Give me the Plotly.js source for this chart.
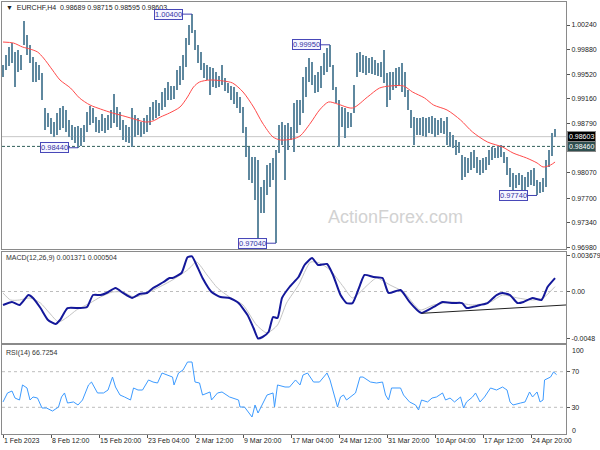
<!DOCTYPE html>
<html><head><meta charset="utf-8">
<script src="https://cdn.plot.ly/plotly-3.0.1.min.js"></script>
<style>html,body{margin:0;padding:0;background:#fff}#c{width:600px;height:450px}</style>
</head><body><div id="c"></div>
<script>
// H4 bars, sampled every second bar (bar number = 2*k)
const highs=[
0.9965,0.9980,0.9992,0.9998,0.9984,0.9987,0.9980,1.0030,1.0009,0.9995,
0.9977,0.9970,0.9965,0.9954,0.9902,0.9895,0.9888,0.9882,0.9895,0.9902,
0.9905,0.9899,0.9885,0.9877,0.9874,0.9876,0.9873,0.9877,0.9896,0.9905,
0.9902,0.9889,0.9885,0.9894,0.9888,0.9892,0.9899,0.9923,0.9904,0.9896,
0.9885,0.9877,0.9874,0.9902,0.9892,0.9888,0.9882,0.9888,0.9892,0.9904,
0.9911,0.9914,0.9910,0.9926,0.9932,0.9940,0.9935,0.9935,0.9958,0.9964,
0.9980,1.0005,1.0024,1.0040,1.0017,0.9995,0.9984,0.9968,0.9965,0.9962,
0.9961,0.9955,0.9949,0.9965,0.9946,0.9939,0.9935,0.9933,0.9926,0.9918,
0.9904,0.9874,0.9845,0.9830,0.9830,0.9826,0.9786,0.9797,0.9819,0.9822,
0.9829,0.9841,0.9877,0.9882,0.9877,0.9880,0.9874,0.9910,0.9914,0.9914,
0.9948,0.9962,0.9976,0.9970,0.9951,0.9955,0.9964,0.9983,0.9990,0.9995,
0.9965,0.9933,0.9914,0.9904,0.9902,0.9896,0.9895,0.9936,0.9983,0.9984,
0.9980,0.9978,0.9976,0.9977,0.9973,0.9968,0.9970,0.9987,0.9954,0.9955,
0.9955,0.9961,0.9962,0.9968,0.9955,0.9929,0.9899,0.9889,0.9888,0.9888,
0.9889,0.9888,0.9889,0.9891,0.9888,0.9885,0.9888,0.9883,0.9889,0.9867,
0.9863,0.9855,0.9852,0.9833,0.9830,0.9829,0.9838,0.9841,0.9830,0.9826,
0.9829,0.9830,0.9841,0.9845,0.9844,0.9847,0.9848,0.9838,0.9830,0.9814,
0.9807,0.9804,0.9807,0.9804,0.9801,0.9808,0.9811,0.9814,0.9797,0.9794,
0.9800,0.9826,0.9841,0.9866,0.98715];
const lows=[
0.9948,0.9958,0.9964,0.9968,0.9933,0.9955,0.9958,0.9995,0.9980,0.9968,
0.9940,0.9940,0.9943,0.9914,0.9870,0.9874,0.9864,0.9860,0.9863,0.9870,
0.9873,0.9867,0.9860,0.9855,0.9851,0.9844,0.9846,0.9852,0.9867,0.9877,
0.9880,0.9867,0.9866,0.9868,0.9866,0.9870,0.9873,0.9880,0.9874,0.9870,
0.9855,0.9852,0.9851,0.9845,0.9860,0.9863,0.9860,0.9864,0.9867,0.9877,
0.9885,0.9888,0.9891,0.9899,0.9904,0.9914,0.9914,0.9916,0.9929,0.9936,
0.9943,0.9962,0.9995,1.0012,0.9987,0.9968,0.9958,0.9946,0.9943,0.9921,
0.9933,0.9932,0.9933,0.9936,0.9927,0.9924,0.9914,0.9908,0.9902,0.9895,
0.9866,0.9830,0.9797,0.9792,0.9767,0.9707,0.9748,0.9748,0.9775,0.9786,
0.9797,0.9704,0.9836,0.9848,0.9797,0.9841,0.9855,0.9838,0.9866,0.9877,
0.9895,0.9918,0.9940,0.9936,0.9924,0.9926,0.9932,0.9951,0.9955,0.9962,
0.9929,0.9910,0.9845,0.9874,0.9858,0.9873,0.9874,0.9895,0.9948,0.9955,
0.9954,0.9951,0.9954,0.9952,0.9951,0.9949,0.9948,0.9939,0.9904,0.9914,
0.9929,0.9932,0.9935,0.9926,0.9918,0.9899,0.9873,0.9848,0.9863,0.9863,
0.9861,0.9860,0.9866,0.9864,0.9860,0.9863,0.9866,0.9864,0.9848,0.9845,
0.9844,0.9833,0.9836,0.9797,0.9801,0.9807,0.9811,0.9814,0.9807,0.9804,
0.9807,0.9811,0.9819,0.9826,0.9829,0.9829,0.9830,0.9822,0.9804,0.9786,
0.9782,0.9785,0.9789,0.9782,0.9778,0.9786,0.9789,0.9788,0.9774,0.9778,
0.9779,0.9786,0.9816,0.9832,0.98595];

// moving average (red)
const maBar=[0,7,13,18,23,27,33,38,45,51,58,65,73,78,85,95,100,105,111,118,123,127,131,138,147,153,160,167,173,180,185,193,198,205,211,217,223,233,243,251,258,267,273,281,287,296,305,313,323,333,340,349,356,360,365,368];
const maVal=[0.99991,0.99976,0.99918,0.99888,0.99845,0.99756,0.99580,0.99434,0.99316,0.99170,0.99067,0.99008,0.98950,0.98921,0.98877,0.98818,0.98833,0.98891,0.98950,0.99038,0.99185,0.99331,0.99404,0.99434,0.99419,0.99390,0.99258,0.99038,0.98803,0.98598,0.98554,0.98569,0.98613,0.98803,0.98994,0.99111,0.99082,0.99023,0.99185,0.99316,0.99346,0.99346,0.99258,0.99170,0.99067,0.98994,0.98847,0.98671,0.98524,0.98451,0.98363,0.98290,0.98217,0.98158,0.98187,0.98231];

// MACD(12,26,9)
const macdBar=[0,6,11,17,20,25,30,35,38,43,51,56,60,65,69,75,80,86,91,96,100,107,111,113,119,123,126,129,133,139,145,151,157,163,167,170,173,177,180,183,186,191,197,201,206,210,216,220,225,229,233,238,241,247,253,257,265,271,276,279,287,293,300,306,309,313,318,323,329,333,338,343,347,353,359,363,368];
const macdVal=[-0.00138,-0.00107,-0.00138,-0.00036,-0.00066,-0.00169,-0.00291,-0.00332,-0.00291,-0.00169,
-0.00169,-0.00158,-0.00036,-0.00036,-0.00015,0.00036,-0.00015,-0.00066,-0.00026,-0.00015,
0.00036,0.00097,0.00138,0.00138,0.00189,0.00350,0.00360,0.00271,0.00138,-0.00005,
-0.00056,-0.00066,-0.00118,-0.00240,-0.00373,-0.00480,-0.00465,-0.00414,-0.00261,-0.00271,
-0.00066,0.00046,0.00148,0.00271,0.00342,0.00271,0.00281,0.00169,-0.00036,-0.00118,
-0.00118,0.00066,0.00169,0.00148,0.00138,-0.00015,0.00015,-0.00107,-0.00189,-0.00220,
-0.00158,-0.00107,-0.00118,-0.00118,-0.00169,-0.00158,-0.00138,-0.00118,-0.00036,-0.00015,
-0.00036,-0.00118,-0.00107,-0.00066,-0.00087,0.00046,0.00137];
const sigBar=[0,5,11,18,25,31,37,43,49,58,65,73,80,87,93,103,113,123,129,136,143,151,160,169,176,183,189,197,205,211,218,227,233,243,249,258,267,278,287,300,313,325,333,343,353,360,368];
const sigVal=[-0.00015,-0.00087,-0.00087,-0.00066,-0.00118,-0.00220,-0.00312,-0.00261,-0.00189,-0.00118,
-0.00056,-0.00005,-0.00005,-0.00056,-0.00036,0.00036,0.00118,0.00220,0.00301,0.00169,
0.00036,-0.00056,-0.00138,-0.00342,-0.00424,-0.00342,-0.00118,0.00066,0.00301,0.00291,
0.00220,0.00046,-0.00066,0.00066,0.00138,0.00066,-0.00005,-0.00189,-0.00138,-0.00107,
-0.00138,-0.00107,-0.00036,-0.00066,-0.00087,-0.00066,0.00050];
const trendBar=[279,376];
const trendVal=[-0.00223,-0.00137];

// RSI(14)
const rsiBar=[0,3,6,8,11,13,16,18,20,23,26,29,33,37,39,41,43,47,50,53,57,59,63,67,70,73,75,78,81,85,87,90,93,97,100,103,106,109,113,114,117,120,123,126,128,131,133,138,139,143,146,151,157,158,161,166,168,170,176,180,181,183,188,191,195,198,200,203,207,211,216,218,220,223,225,227,229,233,235,238,240,245,249,253,255,257,259,265,267,271,275,277,279,283,286,289,293,295,298,301,305,307,309,313,315,318,321,325,329,333,336,338,340,345,348,351,353,356,358,360,361,365,367,369];
const rsiVal=[36.0,46.1,48.3,40.4,38.2,55.1,51.7,38.2,41.6,40.4,
29.2,29.2,25.8,30.3,41.6,46.1,34.8,36.0,32.6,38.2,
55.1,58.4,46.1,46.1,49.4,64.0,52.8,43.8,41.6,38.2,
51.7,49.4,49.4,60.7,58.4,57.3,68.5,66.3,64.0,55.1,
68.5,71.9,80.9,80.9,58.4,57.3,43.8,47.2,38.2,46.1,
47.2,41.6,38.2,30.3,30.3,19.1,32.6,23.6,43.8,46.1,
30.3,55.1,52.8,52.8,60.7,55.1,66.3,68.5,58.4,58.4,
68.5,60.7,47.2,30.3,41.6,43.8,38.2,43.8,46.1,64.0,
64.0,58.4,57.3,58.4,43.8,38.2,51.7,51.7,43.8,36.0,
32.6,27.0,38.2,36.0,40.4,41.6,46.1,38.2,40.4,36.0,
41.6,29.2,36.0,41.6,46.1,36.0,41.6,51.7,49.4,52.8,
49.4,36.0,32.6,34.8,36.0,47.2,41.6,47.2,36.0,38.2,
60.7,64.0,69.7,66.7];
const rsiLevels=[70,30];
const macdLevels=[0];

// swing labels
const swingBar=[126,218,50,182,356];
const swingPrice=[1.00400,0.99950,0.98440,0.97040,0.97740];

// axis ticks
const priceTicks=[1.00240,0.99880,0.99520,0.99160,0.98790,0.98070,0.97700,0.97340,0.96980];
const macdTicks=[0.003679,0,-0.0048];
const macdTickText=['0.003679','0.00','-0.0048'];
const rsiTicks=[70,30];
const rsiEdgeTicks=[100,0];
const xTickBars=[0,32,64,96,128,160,192,224,256,288,320,352];
const xTickText=['1 Feb 2023','8 Feb 12:00','15 Feb 20:00','23 Feb 04:00','2 Mar 12:00','9 Mar 20:00','17 Mar 04:00','24 Mar 12:00','31 Mar 20:00','10 Apr 04:00','17 Apr 12:00','24 Apr 20:00'];

const lastOHLC=[0.98689,0.98715,0.98595,0.98603];
const levelPrice=0.98460;
const macdNow=[0.001371,0.000504];
const rsiNow=66.7254;

const F='"Liberation Sans", Arial, sans-serif';
const barX=highs.map((_,k)=>k*2);

const traces=[
 {type:'bar',x:barX,y:highs.map((h,k)=>h-lows[k]),base:lows,width:1.45,
  marker:{color:'#5f889f',line:{width:0}},xaxis:'x3',yaxis:'y',hoverinfo:'skip'},
 {type:'scatter',mode:'lines',x:maBar,y:maVal,line:{color:'#ff4a4a',width:1,shape:'spline',smoothing:0.8},xaxis:'x3',yaxis:'y'},
 {type:'scatter',mode:'lines',x:sigBar,y:sigVal,line:{color:'#c4c4c4',width:1,shape:'spline',smoothing:0.6},xaxis:'x2',yaxis:'y2'},
 {type:'scatter',mode:'lines',x:macdBar,y:macdVal,line:{color:'#14189a',width:2,shape:'spline',smoothing:0.5},xaxis:'x2',yaxis:'y2'},
 {type:'scatter',mode:'lines',x:trendBar,y:trendVal,line:{color:'#222',width:1},xaxis:'x2',yaxis:'y2'},
 {type:'scatter',mode:'lines',x:rsiBar,y:rsiVal,line:{color:'#3d9bff',width:1},xaxis:'x',yaxis:'y3'}
];

const axLine={showline:true,mirror:true,linecolor:'#8a8a8a',linewidth:1,showgrid:false,zeroline:false};
const tf={family:F,size:7,color:'#222'};
const xdom=[2/600,566/600];

const shapes=[
 {type:'line',xref:'x3 domain',x0:0,x1:1,yref:'y',y0:lastOHLC[3],y1:lastOHLC[3],line:{color:'#c8c8c8',width:1},layer:'below'},
 {type:'line',xref:'x3 domain',x0:0,x1:1,yref:'y',y0:levelPrice,y1:levelPrice,line:{color:'#2f5f5a',width:1,dash:'3px,2px'},layer:'below'}
];
macdLevels.forEach(v=>shapes.push({type:'line',xref:'x2 domain',x0:0,x1:1,yref:'y2',y0:v,y1:v,line:{color:'#bdbdbd',width:1,dash:'dot'},layer:'below'}));
rsiLevels.forEach(v=>shapes.push({type:'line',xref:'x domain',x0:0,x1:1,yref:'y3',y0:v,y1:v,line:{color:'#bdbdbd',width:1,dash:'dot'},layer:'below'}));

const nb='\u00a0';
const ann=[
 {xref:'paper',yref:'paper',x:4/600,y:1-7.5/450,xanchor:'left',yanchor:'middle',showarrow:false,
  text:'▼'+nb+nb+'EURCHF,H4'+nb+nb+lastOHLC.map(v=>v.toFixed(5)).join(nb),font:{family:F,size:7,color:'#222'}},
 {xref:'paper',yref:'paper',x:4/600,y:1-258/450,xanchor:'left',yanchor:'middle',showarrow:false,
  text:'MACD(12,26,9)'+nb+macdNow.map(v=>v.toFixed(6)).join(nb),font:{family:F,size:7,color:'#333'}},
 {xref:'paper',yref:'paper',x:4/600,y:1-353/450,xanchor:'left',yanchor:'middle',showarrow:false,
  text:'RSI(14)'+nb+rsiNow.toFixed(4),font:{family:F,size:7,color:'#333'}},
 {xref:'paper',yref:'paper',x:395/600,y:1-217/450,xanchor:'center',yanchor:'middle',showarrow:false,
  text:'ActionForex.com',font:{family:F,size:18,color:'#d2d2d2'}},
 {xref:'paper',yref:'y',x:567/600,y:lastOHLC[3],xanchor:'left',yanchor:'middle',showarrow:false,
  text:lastOHLC[3].toFixed(5),bgcolor:'#000',bordercolor:'#888',borderwidth:1,borderpad:1,font:{family:F,size:7,color:'#fff'}},
 {xref:'paper',yref:'y',x:567/600,y:levelPrice,xanchor:'left',yanchor:'middle',showarrow:false,
  text:levelPrice.toFixed(5),bgcolor:'#2f4f4f',bordercolor:'#888',borderwidth:1,borderpad:1,font:{family:F,size:7,color:'#fff'}}
];
rsiEdgeTicks.forEach(v=>ann.push({xref:'paper',yref:'y3',x:570/600,y:v,xanchor:'left',yanchor:'middle',showarrow:false,
  yshift:v>50?-5:4,text:String(v),font:tf}));
swingBar.forEach((b,i)=>ann.push({xref:'x3',yref:'y',x:b,y:swingPrice[i],text:swingPrice[i].toFixed(5),
  showarrow:true,arrowhead:0,arrowwidth:1,arrowcolor:'#4040b0',ax:-24,ay:0,
  bgcolor:'#f6f6ff',bordercolor:'#4848b8',borderwidth:1,borderpad:0,font:{family:F,size:7.5,color:'#3535a5'}}));

const layout={
 width:600,height:450,margin:{l:0,r:0,t:0,b:0},paper_bgcolor:'#fff',plot_bgcolor:'#fff',
 showlegend:false,bargap:0,
 xaxis:Object.assign({domain:xdom,range:[-0.67,375.3],anchor:'y3',tickvals:xTickBars,ticktext:xTickText,
   ticks:'outside',ticklen:3,tickcolor:'#555',tickangle:0,ticklabelposition:'outside right',tickfont:tf,showticklabels:true},axLine),
 xaxis2:Object.assign({domain:xdom,matches:'x',anchor:'y2',showticklabels:false,ticks:''},axLine),
 xaxis3:Object.assign({domain:xdom,matches:'x',anchor:'y',showticklabels:false,ticks:''},axLine),
 yaxis:Object.assign({domain:[1-249/450,1-2/450],range:[0.96955,1.00578],side:'right',anchor:'x3',
   tickvals:priceTicks,ticktext:priceTicks.map(v=>v.toFixed(5)),ticks:'outside',ticklen:3,tickcolor:'#555',tickfont:tf},axLine),
 yaxis2:Object.assign({domain:[1-343/450,1-252/450],range:[-0.005263,0.004037],side:'right',anchor:'x2',
   tickvals:macdTicks,ticktext:macdTickText,ticks:'outside',ticklen:3,tickcolor:'#555',tickfont:tf},axLine),
 yaxis3:Object.assign({domain:[1-434/450,1-345/450],range:[0,100],side:'right',anchor:'x',
   tickvals:rsiTicks,ticktext:rsiTicks.map(String),ticks:'outside',ticklen:3,tickcolor:'#555',tickfont:tf},axLine),
 shapes:shapes,annotations:ann
};
Plotly.newPlot('c',traces,layout,{staticPlot:true,displayModeBar:false});
</script></body></html>
